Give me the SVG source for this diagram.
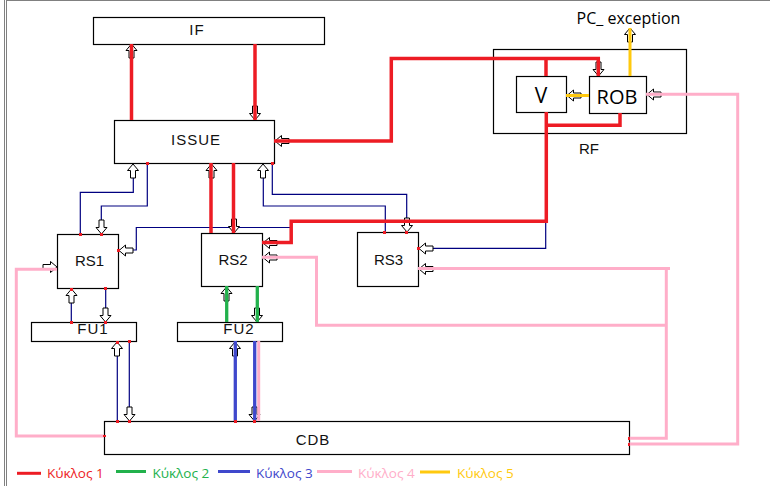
<svg xmlns="http://www.w3.org/2000/svg" xmlns:xlink="http://www.w3.org/1999/xlink" width="770" height="486" viewBox="0 0 770 486">
<style>
.box{fill:#fff;stroke:#000;stroke-width:1.2}
.lbl{font-family:"Liberation Sans",Arial,sans-serif;font-size:15px;fill:#111;text-anchor:middle}
.sp{letter-spacing:1px}
.cal{font-family:"Open Sans","Noto Sans",sans-serif;fill:#000;text-anchor:middle}
.r{fill:none;stroke:#ED1C24;stroke-width:3.5;stroke-linejoin:miter}
.g{fill:none;stroke:#22B14C;stroke-width:3.3}
.b{fill:none;stroke:#3F48CC;stroke-width:3.3}
.p{fill:none;stroke:#FFAEC9;stroke-width:3}
.y{fill:none;stroke:#FFC90E;stroke-width:3}
.n{fill:none;stroke:#000080;stroke-width:1.2}
.ah{fill:#fff;stroke:#000;stroke-width:1}
.dot{fill:#ED1C24}
.frame{stroke:#808080;stroke-width:1;fill:none}
.leg{font-family:"Open Sans","Noto Sans",sans-serif;font-size:13.5px}
</style>
<defs>
<path id="ah" class="ah" d="M0,0 L5.5,6.5 L2.5,6.5 L2.5,14 L-2.5,14 L-2.5,6.5 L-5.5,6.5 Z"/>
</defs>
<rect width="770" height="486" fill="#fff"/>
<g id="frame">
<line class="frame" x1="6" y1="0.5" x2="770" y2="0.5"/>
<line class="frame" x1="4.5" y1="0" x2="4.5" y2="486"/>
<line class="frame" x1="6.5" y1="0" x2="6.5" y2="486"/>
</g>

<g id="IF"><rect class="box" x="93.5" y="17.5" width="231" height="27"/><text class="lbl sp" x="197" y="35">IF</text></g>
<g id="ISSUE"><rect class="box" x="114.5" y="120.5" width="160" height="43"/><text class="lbl sp" x="196" y="144.5">ISSUE</text></g>
<g id="RF"><rect class="box" x="493.5" y="49.5" width="193" height="84"/><text class="lbl" x="589" y="154">RF</text></g>
<g id="V"><rect class="box" x="516.5" y="76.5" width="50" height="36"/><text class="cal" x="541" y="102.5" font-size="21">V</text></g>
<g id="ROB"><rect class="box" x="589.5" y="76.5" width="57" height="37"/><text class="cal" x="617" y="104" font-size="20">ROB</text></g>
<g id="PC_exception"><text class="cal" x="628.5" y="24" font-size="16">PC_ exception</text></g>
<g id="RS1"><rect class="box" x="57.5" y="234.5" width="61" height="54"/><text class="lbl" x="89.5" y="266">RS1</text></g>
<g id="RS2"><rect class="box" x="201.5" y="233.5" width="61" height="53"/><text class="lbl" x="233" y="264.5">RS2</text></g>
<g id="RS3"><rect class="box" x="357.5" y="232.5" width="61" height="54"/><text class="lbl" x="388.5" y="265">RS3</text></g>
<g id="FU1"><rect class="box" x="31.5" y="322.5" width="105" height="19"/><text class="lbl sp" x="93" y="333.5">FU1</text></g>
<g id="FU2"><rect class="box" x="177.5" y="322.5" width="105" height="19"/><text class="lbl sp" x="239" y="334">FU2</text></g>
<g id="CDB"><rect class="box" x="104.5" y="421.5" width="525" height="33"/><text class="lbl sp" x="313" y="445">CDB</text></g>

<g id="connectors">
<!-- navy thin lines (under the block arrows) -->
<path class="n" d="M133.3,164 V192.3 H80.3 V234"/>
<path class="n" d="M147.3,164 V206 H101.3 V234"/>
<path class="n" d="M263.3,164 V206 H385.3 V232"/>
<path class="n" d="M272.3,164 V194.3 H406.7 V232"/>
<path class="n" d="M118,250 H136.3 V227.5 H291 V221.3 H545.7 V248.3 H418"/>
<path class="n" d="M71.3,289 V322"/>
<path class="n" d="M105.7,289 V322"/>
<path class="n" d="M117.3,342 V421"/>
<path class="n" d="M129.3,342 V421"/>

<!-- hollow block arrows -->
<use href="#ah" transform="translate(131.5,44)"/>
<use href="#ah" transform="translate(255,120) rotate(180)"/>
<use href="#ah" transform="translate(275,141) rotate(-90)"/>
<use href="#ah" transform="translate(598.5,76) rotate(180)"/>
<use href="#ah" transform="translate(567,95.5) rotate(-90)"/>
<use href="#ah" transform="translate(630,28)"/>
<use href="#ah" transform="translate(647,94.5) rotate(-90)"/>
<use href="#ah" transform="translate(133,164)"/>
<use href="#ah" transform="translate(211.5,164)"/>
<use href="#ah" transform="translate(263,164)"/>
<use href="#ah" transform="translate(101.5,234) rotate(180)"/>
<use href="#ah" transform="translate(119,250.5) rotate(-90)"/>
<use href="#ah" transform="translate(234,233) rotate(180)"/>
<use href="#ah" transform="translate(263,243) rotate(-90)"/>
<use href="#ah" transform="translate(263,257.5) rotate(-90)"/>
<use href="#ah" transform="translate(407,232) rotate(180)"/>
<use href="#ah" transform="translate(419,248.5) rotate(-90)"/>
<use href="#ah" transform="translate(419,269) rotate(-90)"/>
<use href="#ah" transform="translate(57,267) rotate(90)"/>
<use href="#ah" transform="translate(71.5,289)"/>
<use href="#ah" transform="translate(105.5,322) rotate(180)"/>
<use href="#ah" transform="translate(117,342)"/>
<use href="#ah" transform="translate(129.5,421) rotate(180)"/>
<use href="#ah" transform="translate(226.5,287)"/>
<use href="#ah" transform="translate(257,322) rotate(180)"/>
<use href="#ah" transform="translate(235,342)"/>
<use href="#ah" transform="translate(254.5,421) rotate(180)"/>

<!-- cycle 1 red -->
<path class="r" d="M131.5,120 V44"/>
<path class="r" d="M255,44 V120"/>
<path class="r" d="M274,141 H391.3 V58.5 H598.3 V76"/>
<path class="r" d="M546,58.5 V76"/>
<path class="r" d="M620,113 V125.3 H546.3"/>
<path class="r" d="M546.3,112 V221.3 H291.2 V242.5 H262"/>
<path class="r" d="M211,163 V233"/>
<path class="r" d="M233.5,163 V233"/>

<!-- cycle 2 green -->
<path class="g" d="M226.7,286 V322"/>
<path class="g" d="M257.3,286 V322"/>

<!-- cycle 3 blue -->
<path class="b" d="M235.3,341 V421"/>
<path class="b" d="M254.7,341 V421"/>

<!-- cycle 4 pink -->
<path class="p" d="M258.7,341 V421"/>
<path class="p" d="M104,436 H16.3 V269.3 H57"/>
<path class="p" d="M629,438.3 H666.3 V268.5 H418"/>
<path class="p" d="M666.3,268.5 H670"/>
<path class="p" d="M666.3,325.3 H316.5 V257.3 H262"/>
<path class="p" d="M629,444 H737.7 V94.3 H646"/>

<!-- cycle 5 yellow -->
<path class="y" d="M630,76 V28"/>
<path class="y" d="M589,95.5 H566"/>

<!-- red connection dots -->
<rect class="dot" x="146" y="162" width="3" height="3"/>
<rect class="dot" x="271" y="162" width="3" height="3"/>
<rect class="dot" x="79" y="233" width="3" height="3"/>
<rect class="dot" x="100" y="233" width="3" height="3"/>
<rect class="dot" x="117" y="249" width="3" height="3"/>
<rect class="dot" x="70" y="288" width="3" height="3"/>
<rect class="dot" x="104" y="287" width="3" height="3"/>
<rect class="dot" x="70" y="321" width="3" height="3"/>
<rect class="dot" x="104" y="321" width="3" height="3"/>
<rect class="dot" x="116" y="341" width="3" height="3"/>
<rect class="dot" x="128" y="340" width="3" height="3"/>
<rect class="dot" x="116" y="420" width="3" height="3"/>
<rect class="dot" x="128" y="420" width="3" height="3"/>
<rect class="dot" x="234" y="420" width="3" height="3"/>
<rect class="dot" x="253" y="420" width="3" height="3"/>
<rect class="dot" x="383" y="231" width="3" height="3"/>
<rect class="dot" x="405" y="231" width="3" height="3"/>
<rect class="dot" x="417" y="247" width="3" height="3"/>
<rect class="dot" x="103" y="435" width="3" height="2"/>
<rect class="dot" x="628" y="437" width="2" height="3"/>
<rect class="dot" x="628" y="443" width="2" height="3"/>
</g>

<g id="legend">
<line x1="17" y1="473.3" x2="41" y2="473.3" stroke="#ED1C24" stroke-width="3"/>
<text class="leg" x="47" y="477.5" fill="#ED1C24">Κύκλος 1</text>
<line x1="116" y1="471.5" x2="146" y2="471.5" stroke="#22B14C" stroke-width="3"/>
<text class="leg" x="152.5" y="477.5" fill="#22B14C">Κύκλος 2</text>
<line x1="218" y1="471.5" x2="250" y2="471.5" stroke="#3F48CC" stroke-width="3"/>
<text class="leg" x="256" y="477.5" fill="#3F48CC">Κύκλος 3</text>
<line x1="317" y1="471.5" x2="352" y2="471.5" stroke="#FFAEC9" stroke-width="3"/>
<text class="leg" x="358" y="477.5" fill="#FFAEC9">Κύκλος 4</text>
<line x1="420" y1="472" x2="450" y2="472" stroke="#FFC90E" stroke-width="3"/>
<text class="leg" x="457" y="477.5" fill="#FFC90E">Κύκλος 5</text>
</g>
</svg>
